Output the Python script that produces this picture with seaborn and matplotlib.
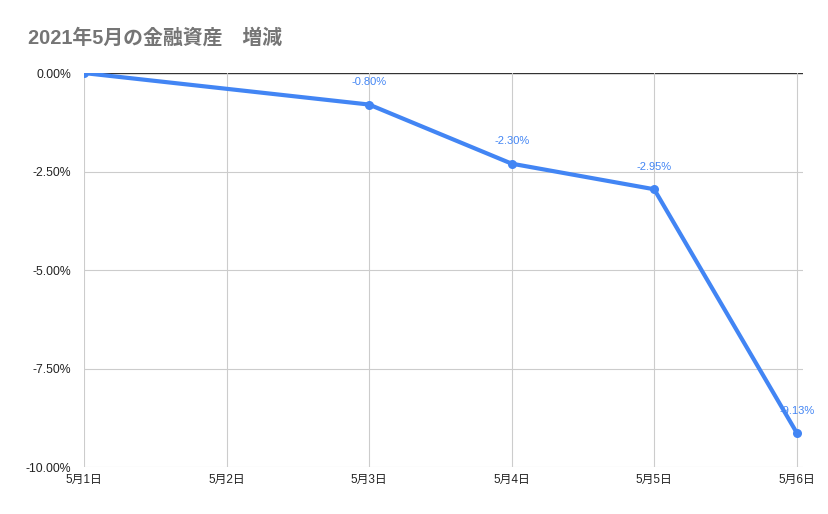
import matplotlib
matplotlib.use("Agg")
import matplotlib.pyplot as plt
import seaborn as sns
import pandas as pd
import numpy as np

days = ["5月1日", "5月2日", "5月3日", "5月4日", "5月5日", "5月6日"]
values = [0.0, np.nan, -0.80, -2.30, -2.95, -9.13]
label_flags = [False, False, True, True, True, True]
yticks = [0.0, -2.5, -5.0, -7.5, -10.0]
title = "2021年5月の金融資産　増減"

sns.set_theme(style="white")
plt.rcParams["font.family"] = ["Liberation Sans", "Noto Sans CJK JP", "DejaVu Sans"]

df = pd.DataFrame({"x": list(range(len(days))), "v": values}).dropna()

fig = plt.figure(figsize=(8.29, 5.14), dpi=100)
ax = fig.add_axes([0.1013, 0.0914, 0.867, 0.7665])

blue = "#4285F4"
sns.lineplot(data=df, x="x", y="v", ax=ax, color=blue, linewidth=3,
             marker="o", markersize=6.5, markeredgewidth=0, zorder=5)

for i, (v, f) in enumerate(zip(values, label_flags)):
    if f and not np.isnan(v):
        ax.annotate(f"{v:.2f}%", (i, v), xytext=(0, 16), textcoords="offset points",
                    ha="center", va="center", color=blue, fontsize=8, zorder=6)

ax.set_xlim(0, len(days) - 1 + 0.042)
ax.set_ylim(-10, 0)
ax.set_xticks(range(len(days)))
ax.set_xticklabels(days, fontsize=8.5)
ax.set_yticks(yticks)
ax.set_yticklabels([f"{t:.2f}%" for t in yticks], fontsize=8.8)
ax.tick_params(axis="y", length=0, pad=9, colors="#222222")
ax.tick_params(axis="x", length=0, pad=5, colors="#222222")
ax.set_xlabel("")
ax.set_ylabel("")

for t in yticks:
    ax.axhline(t, color="#333333" if t == 0 else "#cccccc", linewidth=1 if t == 0 else 0.8, zorder=1)
for i in range(len(days)):
    ax.axvline(i, color="#cccccc", linewidth=0.8, zorder=1)

for s in ax.spines.values():
    s.set_visible(False)

fig.text(28 / 829, 1 - 38 / 514, title, fontsize=14.3, fontweight="bold",
         color="#757575", va="center", ha="left")

fig.savefig("out.png", dpi=100)
